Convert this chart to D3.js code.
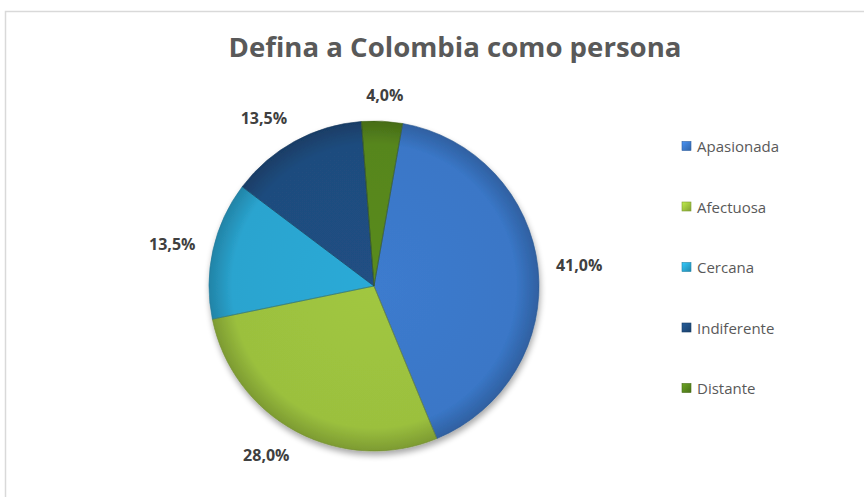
<!DOCTYPE html>
<html>
<head>
<meta charset="utf-8">
<script src="https://cdn.jsdelivr.net/npm/d3@7"></script>
<style>
  html, body { margin: 0; padding: 0; background: #ffffff; }
  svg { display: block; }
</style>
</head>
<body>
<svg id="chart" width="864" height="497"></svg>
<script>
// Chart data
const titleText = "Defina a Colombia como persona";
const categories = ["Apasionada", "Afectuosa", "Cercana", "Indiferente", "Distante"];
const values = [41.0, 28.0, 13.5, 13.5, 4.0];
const baseColors = ["#3a77c7", "#9bc03e", "#2aa4cf", "#1f4c7e", "#57861d"];

const svg = d3.select("#chart");
const W = 864, H = 497;

// Chart frame
svg.append("rect")
  .attr("x", 5.5).attr("y", 11.5)
  .attr("width", W + 20).attr("height", H + 20)
  .attr("fill", "#ffffff")
  .attr("stroke", "#d9d9d9")
  .attr("stroke-width", 1.5);

// Title
svg.append("text")
  .attr("x", 455).attr("y", 57)
  .attr("text-anchor", "middle")
  .attr("font-family", "'Open Sans', 'Liberation Sans', sans-serif")
  .attr("font-weight", "bold")
  .attr("font-size", 26)
  .attr("fill", "#595959")
  .attr("textLength", 453)
  .attr("lengthAdjust", "spacingAndGlyphs")
  .text(titleText);

const cx = 374, cy = 286, R = 165;
const defs = svg.append("defs");

// Soft shadow under the pie
const shadow = defs.append("filter").attr("id", "pieShadow")
  .attr("x", "-20%").attr("y", "-20%").attr("width", "140%").attr("height", "140%");
shadow.append("feGaussianBlur").attr("in", "SourceAlpha").attr("stdDeviation", 3).attr("result", "b");
shadow.append("feOffset").attr("in", "b").attr("dx", 1).attr("dy", 4).attr("result", "o");
shadow.append("feComponentTransfer").attr("in", "o").attr("result", "s")
  .append("feFuncA").attr("type", "linear").attr("slope", 0.35);
const merge = shadow.append("feMerge");
merge.append("feMergeNode").attr("in", "s");
merge.append("feMergeNode").attr("in", "SourceGraphic");

// Bevel-like shading for each slice colour (centred on the pie group origin)
baseColors.forEach((c, i) => {
  const base = d3.color(c);
  const g = defs.append("radialGradient")
    .attr("id", "grad" + i)
    .attr("gradientUnits", "userSpaceOnUse")
    .attr("cx", 0).attr("cy", 0).attr("r", R);
  g.append("stop").attr("offset", "0%").attr("stop-color", base.brighter(0.1));
  g.append("stop").attr("offset", "86%").attr("stop-color", base);
  g.append("stop").attr("offset", "100%").attr("stop-color", base.darker(0.6));

  const lg = defs.append("linearGradient")
    .attr("id", "lgrad" + i)
    .attr("x1", 0).attr("y1", 0).attr("x2", 1).attr("y2", 1);
  lg.append("stop").attr("offset", "0%").attr("stop-color", base.brighter(0.6));
  lg.append("stop").attr("offset", "100%").attr("stop-color", base.darker(0.5));
});

const pie = d3.pie()
  .sort(null)
  .value(d => d)
  .startAngle(10 * Math.PI / 180)
  .endAngle(10 * Math.PI / 180 + 2 * Math.PI);

const arcs = pie(values);
const arc = d3.arc().innerRadius(0).outerRadius(R);

const pieG = svg.append("g")
  .attr("transform", `translate(${cx},${cy})`)
  .attr("filter", "url(#pieShadow)");

pieG.selectAll("path.slice")
  .data(arcs)
  .join("path")
  .attr("class", "slice")
  .attr("d", arc)
  .attr("fill", (d, i) => `url(#grad${i})`);

pieG.selectAll("path.edge")
  .data(arcs)
  .join("path")
  .attr("class", "edge")
  .attr("d", arc)
  .attr("fill", "none")
  .attr("stroke", (d, i) => d3.color(baseColors[i]).darker(0.9))
  .attr("stroke-opacity", 0.6)
  .attr("stroke-width", 1);

// Percentage labels: each label box sits just outside its slice's outer edge
const fmt = v => d3.format(".1f")(v).replace(".", ",") + "%";
const labelArc = d3.arc().innerRadius(R + 18).outerRadius(R + 18);
const labelH = 16;
const labels = svg.append("g")
  .attr("transform", `translate(${cx},${cy})`)
  .selectAll("text")
  .data(arcs)
  .join("text")
  .attr("text-anchor", "middle")
  .attr("dominant-baseline", "central")
  .attr("font-family", "'Open Sans', 'Liberation Sans', sans-serif")
  .attr("font-weight", "bold")
  .attr("font-size", 16)
  .attr("fill", "#404040")
  .text(d => fmt(d.data));

labels.each(function(d) {
  const a = (d.startAngle + d.endAngle) / 2;
  const [px, py] = labelArc.centroid(d);
  const w = this.getComputedTextLength();
  const sx = Math.max(-1, Math.min(1, 2 * Math.sin(a)));
  d3.select(this)
    .attr("x", px + sx * w / 2)
    .attr("y", py - Math.cos(a) * labelH / 2);
});

// Legend
const legend = svg.append("g");
const rowY = d3.scalePoint().domain(categories).range([146, 388]);
const rows = legend.selectAll("g")
  .data(categories)
  .join("g")
  .attr("transform", d => `translate(682,${rowY(d)})`);

rows.append("rect")
  .attr("x", 0).attr("y", -4.5)
  .attr("width", 9).attr("height", 9)
  .attr("fill", (d, i) => `url(#lgrad${i})`)
  .attr("stroke", (d, i) => d3.color(baseColors[i]).darker(0.6))
  .attr("stroke-width", 0.6);

rows.append("text")
  .attr("x", 15).attr("y", 0)
  .attr("dominant-baseline", "central")
  .attr("font-family", "'Open Sans', 'Liberation Sans', sans-serif")
  .attr("font-size", 15)
  .attr("fill", "#595959")
  .text(d => d);
</script>
</body>
</html>
